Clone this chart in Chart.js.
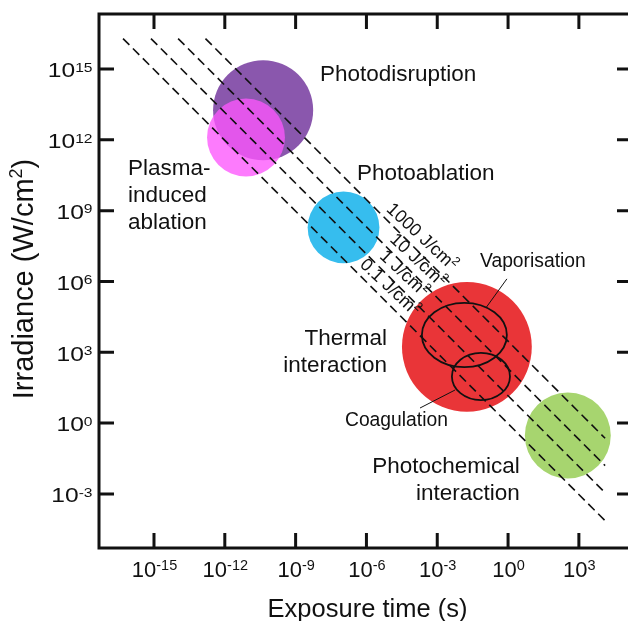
<!DOCTYPE html>
<html>
<head>
  <title>Laser-tissue interaction map</title>
  <script src="https://cdn.jsdelivr.net/npm/chart.js"></script>
  <style>
    html, body { margin: 0; padding: 0; background: #fff; overflow: hidden; }
    canvas { display: block; }
  </style>
</head>
<body>
  <canvas id="mapChart" width="640" height="621"></canvas>

  <script>
    // interaction regions: centre exposure time (s), centre irradiance (W/cm2), radius in decades
    const regionNames = ['Photodisruption', 'Plasma-induced ablation', 'Photoablation', 'Thermal interaction', 'Photochemical interaction'];
    const regionTime = [4.2e-11, 7.9e-12, 1.07e-7, 1.8e-2, 340];
    const regionIrradiance = [1.8e13, 1.26e12, 1.95e8, 1.7e3, 0.30];
    const regionSpan = [2.12, 1.65, 1.52, 2.75, 1.82];

    // sub-regions inside thermal interaction: centre and half-extents in decades (time, irradiance)
    const subNames = ['Vaporisation', 'Coagulation'];
    const subTime = [1.41e-2, 7.1e-2];
    const subIrradiance = [5.4e3, 95];
    const subSpanTime = [1.80, 1.23];
    const subSpanIrr = [1.36, 1.0];

    // constant-fluence lines (I * t = F) as they sit in the figure
    const fluenceLabels = ['1000 J/cm²', '10 J/cm²', '1 J/cm²', '0.1 J/cm²'];
    const fluenceDrawn = [2950, 205, 14.5, 0.95];
    const lineIrrMax = 1.95e16;
    const lineTimeMax = 1.29e4;

    const xTickExp = [-15, -12, -9, -6, -3, 0, 3];
    const yTickExp = [-3, 0, 3, 6, 9, 12, 15];

    const FONT = '"Liberation Sans", Arial, sans-serif';
    const INK = '#111';
    const regionColors = ['#8a57ad', 'rgba(252,86,252,0.78)', '#36bdee', '#e93538', '#a7d56f'];

    function decadePx(chart) {
      const s = chart.scales.x;
      return (s.getPixelForValue(1000) - s.getPixelForValue(1)) / 3;
    }

    // draws "main" + raised "sup" + "tail"; x is left / centre / right per align, y is baseline
    function supText(ctx, main, sup, tail, x, y, size, supSize, rise, align, stretch) {
      ctx.save();
      ctx.translate(x, y);
      ctx.scale(stretch || 1, 1);
      ctx.font = size + 'px ' + FONT;
      const w1 = ctx.measureText(main).width, w3 = ctx.measureText(tail).width;
      ctx.font = supSize + 'px ' + FONT;
      const w2 = ctx.measureText(sup).width;
      const tot = w1 + w2 + w3;
      const start = align === 'right' ? -tot : align === 'center' ? -tot / 2 : 0;
      ctx.fillStyle = INK;
      ctx.textAlign = 'left';
      ctx.textBaseline = 'alphabetic';
      ctx.font = size + 'px ' + FONT;
      ctx.fillText(main, start, 0);
      ctx.fillText(tail, start + w1 + w2, 0);
      ctx.font = supSize + 'px ' + FONT;
      ctx.fillText(sup, start + w1, -rise);
      ctx.restore();
    }

    function textLines(ctx, lines, x, y, size, align, lead) {
      ctx.font = size + 'px ' + FONT;
      ctx.textAlign = align;
      ctx.textBaseline = 'alphabetic';
      ctx.fillStyle = INK;
      lines.forEach((s, i) => ctx.fillText(s, x, y + i * lead));
    }

    const overlay = {
      id: 'overlay',
      afterDatasetsDraw(chart) {
        const ctx = chart.ctx;
        const sx = chart.scales.x, sy = chart.scales.y;
        const X = v => sx.getPixelForValue(v), Y = v => sy.getPixelForValue(v);
        const d = decadePx(chart);

        ctx.save();
        // vaporisation / coagulation outlines
        ctx.strokeStyle = INK;
        ctx.lineWidth = 1.8;
        subNames.forEach((n, i) => {
          ctx.beginPath();
          ctx.ellipse(X(subTime[i]), Y(subIrradiance[i]), subSpanTime[i] * d, subSpanIrr[i] * d, 0, 0, Math.PI * 2);
          ctx.stroke();
        });

        // leader lines
        ctx.lineWidth = 1;
        [[[10 ** -0.05, 10 ** 6.11], [10 ** -0.94, 10 ** 4.88]],
         [[10 ** -2.25, 10 ** 1.40], [10 ** -3.73, 10 ** 0.64]]].forEach(seg => {
          ctx.beginPath();
          ctx.moveTo(X(seg[0][0]), Y(seg[0][1]));
          ctx.lineTo(X(seg[1][0]), Y(seg[1][1]));
          ctx.stroke();
        });

        // region labels
        textLines(ctx, ['Photodisruption'], X(10 ** -7.97), Y(10 ** 14.49), 22.5, 'left', 27);
        textLines(ctx, ['Photoablation'], X(10 ** -6.40), Y(10 ** 10.30), 22.5, 'left', 27);
        textLines(ctx, ['Plasma-', 'induced', 'ablation'], X(10 ** -16.10), Y(10 ** 10.51), 22.5, 'left', 27);
        textLines(ctx, ['Thermal', 'interaction'], X(10 ** -5.13), Y(10 ** 3.31), 22.5, 'right', 27.5);
        textLines(ctx, ['Photochemical', 'interaction'], X(10 ** 0.50), Y(10 ** -2.11), 22.5, 'right', 27);
        textLines(ctx, ['Vaporisation'], X(10 ** -1.19), Y(10 ** 6.61), 19.3, 'left', 20);
        textLines(ctx, ['Coagulation'], X(10 ** -6.91), Y(10 ** -0.12), 19.3, 'left', 20);

        // fluence labels, set just above each line
        const labelAt = [10 ** -4.03, 10 ** -4.2, 10 ** -4.79, 10 ** -5.39];
        fluenceLabels.forEach((s, i) => {
          const t = labelAt[i];
          const px = X(t) + 9.9, py = Y(fluenceDrawn[i] / t) - 9.9;
          const parts = s.split('²');
          ctx.save();
          ctx.translate(px, py);
          ctx.rotate(0.75);
          supText(ctx, parts[0], '2', parts[1] || '', 0, 6.5, 18, 12, 7, 'center');
          ctx.restore();
        });
        ctx.restore();
      },
      afterDraw(chart) {
        const ctx = chart.ctx;
        const a = chart.chartArea;
        const sx = chart.scales.x, sy = chart.scales.y;
        ctx.save();
        ctx.strokeStyle = INK;
        ctx.lineWidth = 3;
        ctx.lineCap = 'square';
        ctx.strokeRect(a.left, a.top, a.right - a.left, a.bottom - a.top);
        ctx.lineCap = 'butt';
        const tl = 15;
        ctx.beginPath();
        xTickExp.forEach(e => {
          const x = sx.getPixelForValue(10 ** e);
          ctx.moveTo(x, a.bottom); ctx.lineTo(x, a.bottom - tl);
          ctx.moveTo(x, a.top); ctx.lineTo(x, a.top + tl);
        });
        yTickExp.forEach(e => {
          const y = sy.getPixelForValue(10 ** e);
          ctx.moveTo(a.left, y); ctx.lineTo(a.left + tl, y);
          ctx.moveTo(a.right, y); ctx.lineTo(a.right - tl, y);
        });
        ctx.stroke();

        xTickExp.forEach(e => {
          supText(ctx, '10', String(e), '', sx.getPixelForValue(10 ** e) + 0.5, a.bottom + 29, 22, 14.5, 7, 'center');
        });
        yTickExp.forEach(e => {
          supText(ctx, '10', String(e), '', a.left - 6.5, sy.getPixelForValue(10 ** e) + 8.3, 20.5, 13, 5.6, 'right', 1.2);
        });

        // axis titles
        ctx.fillStyle = INK;
        ctx.textAlign = 'center';
        ctx.textBaseline = 'alphabetic';
        ctx.font = '25.5px ' + FONT;
        ctx.fillText('Exposure time (s)', (a.left + a.right) / 2 + 2, 617);
        ctx.translate(33, (a.top + a.bottom) / 2 - 2);
        ctx.rotate(-Math.PI / 2);
        supText(ctx, 'Irradiance (W/cm', '2', ')', 0, 0, 29, 18, 11, 'center');
        ctx.restore();
      }
    };

    const lineSets = fluenceDrawn.map((f, i) => ({
      label: fluenceLabels[i],
      data: [{ x: f / lineIrrMax, y: lineIrrMax }, { x: lineTimeMax, y: f / lineTimeMax }],
      showLine: true,
      borderColor: INK,
      borderWidth: 1.6,
      borderDash: [9, 5],
      pointRadius: 0,
      order: 1
    }));

    const regionSet = {
      label: 'Regions',
      data: regionNames.map((n, i) => ({ x: regionTime[i], y: regionIrradiance[i] })),
      pointRadius: ctx => regionSpan[ctx.dataIndex] * decadePx(ctx.chart),
      pointBackgroundColor: regionColors,
      pointBorderWidth: 0,
      pointBorderColor: 'rgba(0,0,0,0)',
      order: 2
    };

    new Chart(document.getElementById('mapChart'), {
      type: 'scatter',
      data: { datasets: [...lineSets, regionSet] },
      options: {
        responsive: false,
        animation: false,
        events: [],
        layout: { padding: { left: 99, right: 8, top: 14, bottom: 73 } },
        plugins: { legend: { display: false }, tooltip: { enabled: false } },
        scales: {
          x: { type: 'logarithmic', min: 4.68e-18, max: 1.78e5, display: false },
          y: { type: 'logarithmic', min: 5.13e-6, max: 2.14e17, display: false }
        }
      },
      plugins: [overlay]
    });
  </script>
</body>
</html>
